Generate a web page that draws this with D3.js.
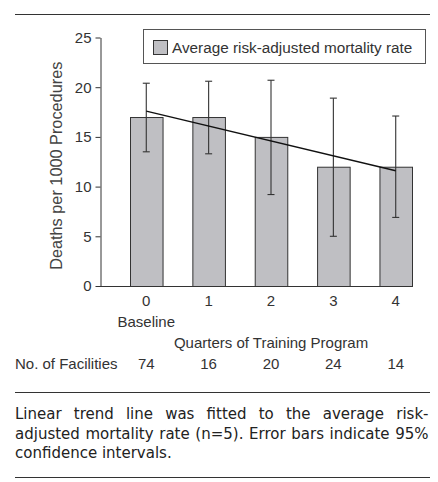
<!DOCTYPE html>
<html>
<head>
<meta charset="utf-8">
<script src="https://cdn.jsdelivr.net/npm/d3@7"></script>
<style>
  body { margin: 0; background: #fff; }
  svg { display: block; }
  text { font-family: "Liberation Sans", Arial, sans-serif; fill: #333; }
  .caption { font-family: "DejaVu Sans", sans-serif; fill: #222; }
</style>
</head>
<body>
<div id="chart"></div>
<script>
// data
var quarters = ["0", "1", "2", "3", "4"]
var rates = [17, 17, 15, 12, 12]
var ciLow = [13.5, 13.3, 9.2, 5.0, 6.9]
var ciHigh = [20.4, 20.6, 20.7, 18.9, 17.1]
var facilities = [74, 16, 20, 24, 14]
var yTicks = [0, 5, 10, 15, 20, 25]
var captionLines = [
    "Linear trend line was fitted to the average risk-",
    "adjusted mortality rate (n=5). Error bars indicate 95%",
    "confidence intervals."
]

var width = 438
var height = 482
var barFill = "#bfbfc3"

var svg = d3.select("#chart").append("svg").attr("width", width).attr("height", height)

var x = d3.scaleBand().domain(quarters).range([130, 412]).paddingInner(0.478).paddingOuter(0)
var y = d3.scaleLinear().domain([0, 25]).range([286, 37.5])
var cx = d => x(d) + x.bandwidth() / 2

// rules top and bottom
svg.append("line").attr("x1", 15).attr("x2", 430).attr("y1", 14.5).attr("y2", 14.5)
    .attr("stroke", "#333").attr("stroke-width", 1)
svg.append("line").attr("x1", 15).attr("x2", 430).attr("y1", 392.5).attr("y2", 392.5)
    .attr("stroke", "#333").attr("stroke-width", 1)
svg.append("line").attr("x1", 15).attr("x2", 430).attr("y1", 477.5).attr("y2", 477.5)
    .attr("stroke", "#333").attr("stroke-width", 1)

// y axis
var yAxis = svg.append("g")
    .attr("transform", "translate(100.5,0)")
    .call(d3.axisLeft(y).tickValues(yTicks).tickSize(5).tickSizeOuter(0).tickPadding(4))
yAxis.select(".domain").attr("stroke", "#333")
yAxis.selectAll(".tick line").attr("stroke", "#333")
yAxis.selectAll(".tick text").attr("font-size", 15).attr("fill", "#333")
    .style("font-family", "'Liberation Sans', Arial, sans-serif")

// x axis line
svg.append("line").attr("x1", 100).attr("x2", x.range()[1])
    .attr("y1", y(0) + 0.5).attr("y2", y(0) + 0.5).attr("stroke", "#333")

svg.append("text")
    .attr("transform", "translate(62," + ((y(0) + y(25)) / 2 + 4) + ") rotate(-90)")
    .attr("text-anchor", "middle")
    .style("font-size", "16.3px").style("fill", "#444")
    .text("Deaths per 1000 Procedures")

// bars
svg.selectAll(".bar").data(rates).enter().append("rect")
    .attr("class", "bar")
    .attr("x", (d, i) => x(quarters[i]) + 0.5)
    .attr("y", d => y(d) + 0.5)
    .attr("width", x.bandwidth())
    .attr("height", d => y(0) - y(d))
    .attr("fill", barFill).attr("stroke", "#333").attr("stroke-width", 1)

// error bars
var err = svg.selectAll(".err").data(quarters).enter().append("g").attr("class", "err")
    .attr("stroke", "#333").attr("stroke-width", 1.1)
err.append("line")
    .attr("x1", d => cx(d)).attr("x2", d => cx(d))
    .attr("y1", (d, i) => y(ciHigh[i])).attr("y2", (d, i) => y(ciLow[i]))
err.append("line")
    .attr("x1", d => cx(d) - 3.5).attr("x2", d => cx(d) + 3.5)
    .attr("y1", (d, i) => y(ciHigh[i])).attr("y2", (d, i) => y(ciHigh[i]))
err.append("line")
    .attr("x1", d => cx(d) - 3.5).attr("x2", d => cx(d) + 3.5)
    .attr("y1", (d, i) => y(ciLow[i])).attr("y2", (d, i) => y(ciLow[i]))

// least squares trend through the five averages
var idx = quarters.map(Number)
var mx = d3.mean(idx), my = d3.mean(rates)
var slope = d3.sum(idx, (d, i) => (d - mx) * (rates[i] - my)) / d3.sum(idx, d => (d - mx) * (d - mx))
var trend = idx.map(d => my + slope * (d - mx))
svg.append("path")
    .datum([0, trend.length - 1])
    .attr("d", d3.line().x(i => cx(quarters[i])).y(i => y(trend[i])))
    .attr("fill", "none").attr("stroke", "#111").attr("stroke-width", 1.4)

// legend
svg.append("rect").attr("x", 143.5).attr("y", 29.5).attr("width", 282).attr("height", 34)
    .attr("fill", "#fff").attr("stroke", "#555")
svg.append("rect").attr("x", 153.5).attr("y", 40.5).attr("width", 14).attr("height", 14)
    .attr("fill", barFill).attr("stroke", "#333")
svg.append("text").attr("x", 172).attr("y", 52.5).attr("font-size", 15.3)
    .text("Average risk-adjusted mortality rate")

// x tick labels
svg.selectAll(".xlab").data(quarters).enter().append("text")
    .attr("x", d => cx(d)).attr("y", 306).attr("text-anchor", "middle").attr("font-size", 15)
    .text(d => d)
svg.append("text").attr("x", cx("0")).attr("y", 327).attr("text-anchor", "middle")
    .attr("font-size", 15).text("Baseline")
svg.append("text").attr("x", cx("2")).attr("y", 347.5).attr("text-anchor", "middle")
    .attr("font-size", 15).text("Quarters of Training Program")

// facilities row
svg.append("text").attr("x", 15).attr("y", 369).attr("font-size", 15).text("No. of Facilities")
svg.selectAll(".fac").data(facilities).enter().append("text")
    .attr("x", (d, i) => cx(quarters[i])).attr("y", 369).attr("text-anchor", "middle")
    .attr("font-size", 15).text(d => d)

// caption: one paragraph, font sized so the widest line fills the column, then justified
var capLeft = 15, capRight = 428.5
var capWidth = capRight - capLeft
var probe = svg.append("text").attr("class", "caption").attr("font-size", 15).text(captionLines[1])
var capSize = Math.min(15, 15 * capWidth / probe.node().getComputedTextLength())
probe.remove()
var caption = svg.append("text").attr("class", "caption").attr("font-size", capSize)
captionLines.forEach(function(line, i) {
    var t = caption.append("tspan")
        .attr("x", capLeft).attr("y", 419 + i * 19.7)
        .text(line)
    if (i < captionLines.length - 1) {
        var natural = t.node().getComputedTextLength()
        var gaps = line.split(" ").length - 1
        t.attr("word-spacing", Math.max(0, (capWidth - natural) / gaps))
    }
})
</script>
</body>
</html>
